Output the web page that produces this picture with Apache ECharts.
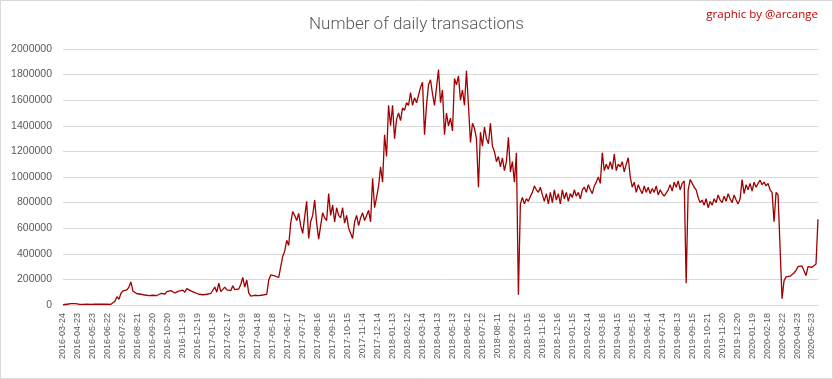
<!DOCTYPE html>
<html>
<head>
<meta charset="utf-8">
<script src="https://cdn.jsdelivr.net/npm/echarts@6/dist/echarts.min.js"></script>
<style>
html,body{margin:0;padding:0;background:#fff;}
#chart{width:833px;height:379px;}
</style>
</head>
<body>
<div id="chart"></div>
<script>
// Tick labels shown every 30 days (category positions 0,30,60,...)
const tickLabels = [
  "2016-03-24","2016-04-23","2016-05-23","2016-06-22","2016-07-22","2016-08-21","2016-09-20","2016-10-20","2016-11-19","2016-12-19",
  "2017-01-18","2017-02-17","2017-03-19","2017-04-18","2017-05-18","2017-06-17","2017-07-17","2017-08-16","2017-09-15","2017-10-15",
  "2017-11-14","2017-12-14","2018-01-13","2018-02-12","2018-03-14","2018-04-13","2018-05-13","2018-06-12","2018-07-12","2018-08-11",
  "2018-09-12","2018-10-15","2018-11-16","2018-12-16","2019-01-15","2019-02-14","2019-03-16","2019-04-15","2019-05-15","2019-06-14",
  "2019-07-14","2019-08-13","2019-09-15","2019-10-21","2019-11-20","2019-12-20","2020-01-19","2020-02-18","2020-03-22","2020-04-23",
  "2020-05-23"
];
// Daily transactions, sampled every 4th day (day index = position * 4)
const sampleStep = 4;
const transactions = [
  2000,4000,6000,8000,10000,9000,11000,7000,6000,
  6000,5000,6000,7000,6000,5000,6000,6000,7000,6000,5000,6000,7000,6000,6000,5000,6000,
  30000,65000,45000,90000,110000,100000,118000,140000,180000,110000,
  100000,88000,102000,84000,94000,78000,86000,74000,84000,76000,
  88000,74000,82000,90000,98000,86000,104000,90000,112000,120000,
  94000,88000,108000,96000,116000,100000,128000,134000,110000,104000,
  96000,90000,84000,70000,80000,68000,84000,74000,90000,78000,
  140000,100000,170000,105000,95000,140000,118000,130000,112000,150000,
  120000,135000,125000,160000,215000,140000,195000,95000,70000,82000,
  76000,88000,74000,84000,78000,90000,84000,195000,235000,245000,
  228000,240000,215000,205000,380000,420000,505000,465000,640000,730000,
  700000,660000,715000,620000,560000,690000,810000,520000,650000,700000,
  820000,640000,515000,620000,720000,680000,660000,870000,700000,780000,
  650000,760000,700000,680000,760000,640000,700000,600000,560000,520000,
  650000,700000,620000,680000,720000,660000,700000,740000,650000,990000,
  760000,840000,930000,1080000,960000,1330000,1160000,1560000,1400000,1560000,
  1300000,1450000,1500000,1440000,1540000,1520000,1580000,1560000,1660000,1560000,
  1620000,1580000,1640000,1700000,1740000,1330000,1560000,1720000,1760000,1650000,
  1560000,1700000,1840000,1580000,1680000,1330000,1500000,1400000,1460000,1360000,
  1770000,1720000,1790000,1600000,1680000,1560000,1830000,1560000,1270000,1420000,
  1380000,1300000,920000,1350000,1240000,1390000,1300000,1260000,1420000,1240000,
  1200000,1120000,1160000,1080000,1150000,1050000,1120000,1310000,1040000,1120000,
  960000,1190000,80000,790000,840000,790000,830000,810000,850000,880000,
  930000,900000,880000,920000,860000,810000,870000,790000,880000,800000,
  900000,820000,870000,790000,900000,830000,880000,810000,870000,840000,
  900000,850000,880000,830000,900000,920000,880000,940000,900000,870000,
  930000,960000,1000000,950000,1190000,1050000,1100000,1060000,1120000,1060000,
  1180000,1050000,1100000,1080000,1120000,1040000,1100000,1150000,1000000,920000,
  960000,880000,940000,900000,870000,930000,880000,920000,870000,910000,
  880000,930000,860000,900000,870000,850000,860000,900000,940000,890000,
  960000,920000,970000,900000,950000,970000,170000,900000,980000,950000,
  920000,900000,840000,800000,820000,780000,830000,760000,810000,780000,
  830000,800000,860000,820000,800000,850000,810000,870000,830000,800000,
  860000,820000,790000,830000,980000,870000,940000,900000,950000,890000,
  960000,920000,950000,975000,940000,960000,930000,950000,900000,880000,
  650000,880000,860000,870000,50000,190000,220000,210000,225000,230000,
  250000,270000,300000,295000,305000,295000,230000,300000,310000,295000,
  310000,320000,670000
];

const chart = echarts.init(document.getElementById('chart'), null, {renderer: 'canvas'});
const seriesData = transactions.map((v, i) => [i * sampleStep, v]);
const lastIndex = (transactions.length - 1) * sampleStep;

chart.setOption({
  animation: false,
  backgroundColor: '#ffffff',
  title: {
    text: 'Number of daily transactions',
    left: 'center',
    top: 11,
    textStyle: {fontFamily: 'Roboto', fontWeight: 300, fontSize: 17, color: '#595959'}
  },
  graphic: [
    {type: 'rect', shape: {x: 0.5, y: 0.5, width: 832, height: 378},
     style: {fill: 'none', stroke: '#d9d9d9', lineWidth: 1}, silent: true},
    {type: 'text', right: 15, top: 9,
     style: {text: 'graphic by @arcange', fill: '#c00000', font: '11.5px "Open Sans", sans-serif'}}
  ],
  grid: {left: 63, right: 15, top: 49, bottom: 74, containLabel: false},
  xAxis: {
    type: 'value',
    min: 0,
    max: lastIndex,
    interval: 30,
    axisLine: {show: true, lineStyle: {color: '#d9d9d9', width: 1}},
    axisTick: {show: false},
    splitLine: {show: false},
    axisLabel: {
      rotate: 90,
      margin: 8,
      showMaxLabel: false,
      fontFamily: 'Liberation Sans',
      fontSize: 9,
      color: '#595959',
      formatter: function (v) { const k = Math.round(v / 30); return (k * 30 === v && tickLabels[k]) ? tickLabels[k] : ''; }
    }
  },
  yAxis: {
    type: 'value',
    min: 0,
    max: 2000000,
    interval: 200000,
    axisLine: {show: false},
    axisTick: {show: false},
    splitLine: {lineStyle: {color: '#d9d9d9', width: 1}},
    axisLabel: {
      margin: 11,
      fontFamily: 'Liberation Sans',
      fontSize: 10.5,
      color: '#595959',
      formatter: function (v) { return String(v); }
    }
  },
  series: [{
    type: 'line',
    data: seriesData,
    showSymbol: false,
    symbol: 'none',
    lineStyle: {color: '#a00000', width: 1.3},
    itemStyle: {color: '#a00000'}
  }]
});
</script>
</body>
</html>
